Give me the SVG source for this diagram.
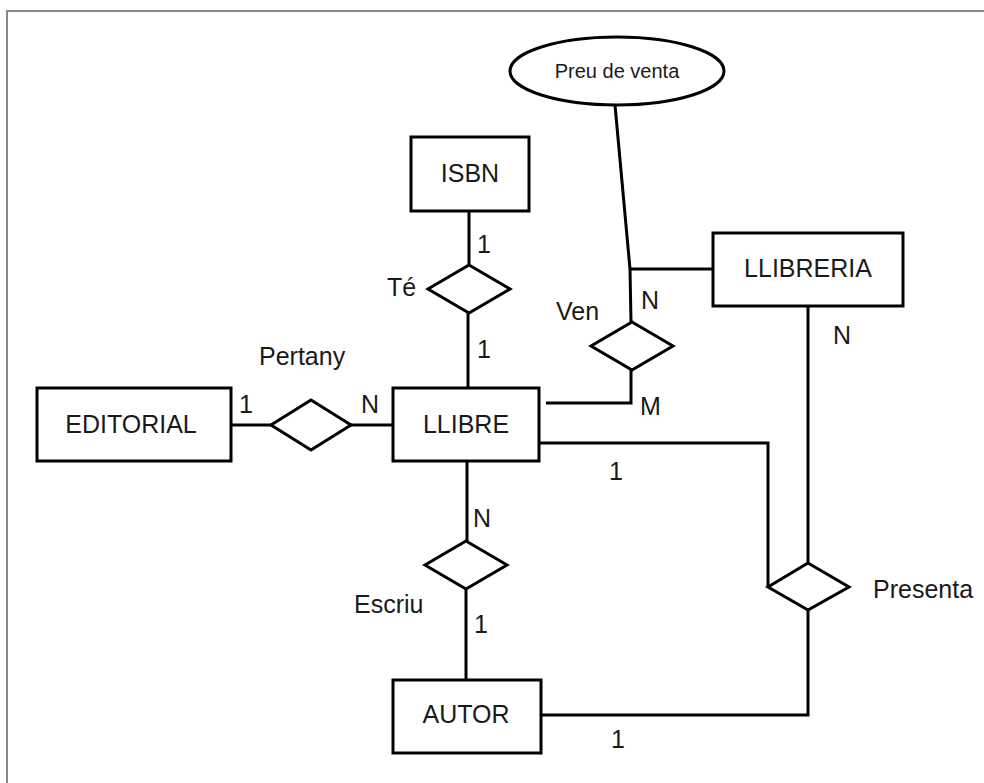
<svg xmlns="http://www.w3.org/2000/svg" width="984" height="783" viewBox="0 0 984 783">
<style>
.box{fill:#fff;stroke:#000;stroke-width:3}
.rel{fill:#fff;stroke:#000;stroke-width:3;stroke-linejoin:miter}
.ln{fill:none;stroke:#000;stroke-width:3}
text{font-family:"Liberation Sans",Arial,sans-serif;font-size:25px;fill:#1a1a1a}
.c{text-anchor:middle}
</style>
<rect width="984" height="783" fill="#fff"/>
<path d="M7,783 V11 H984" fill="none" stroke="#888" stroke-width="2"/>
<g id="connectors">
<path class="ln" d="M469,211 V266"/>
<path class="ln" d="M468,313 V388"/>
<path class="ln" d="M615,105 L630,269 L631,322"/>
<path class="ln" d="M630,269 H713"/>
<path class="ln" d="M631,370 V403 H546"/>
<path class="ln" d="M231,425 H271"/>
<path class="ln" d="M350,425 H393"/>
<path class="ln" d="M467,461 V541"/>
<path class="ln" d="M466,588 V680"/>
<path class="ln" d="M539,443 H768 V587"/>
<path class="ln" d="M808,306 V563"/>
<path class="ln" d="M808,610 V715 H541"/>
</g>
<g id="preu-de-venta">
<ellipse cx="617" cy="71" rx="107" ry="34" fill="#fff" stroke="#000" stroke-width="3"/>
<text class="c" x="617" y="78" style="font-size:20px">Preu de venta</text>
</g>
<g id="isbn">
<rect class="box" x="411" y="137" width="118" height="74"/>
<text class="c" x="470" y="182">ISBN</text>
</g>
<g id="llibreria">
<rect class="box" x="713" y="233" width="190" height="73"/>
<text class="c" x="808" y="277">LLIBRERIA</text>
</g>
<g id="llibre">
<rect class="box" x="393" y="388" width="146" height="73"/>
<text class="c" x="466" y="433">LLIBRE</text>
</g>
<g id="editorial">
<rect class="box" x="37" y="388" width="194" height="73"/>
<text class="c" x="131" y="433">EDITORIAL</text>
</g>
<g id="autor">
<rect class="box" x="393" y="680" width="148" height="73"/>
<text class="c" x="466" y="723">AUTOR</text>
</g>
<g id="te">
<polygon class="rel" points="469,265 510,289 469,313 428,289"/>
<text x="387" y="296">Té</text>
</g>
<g id="ven">
<polygon class="rel" points="632,322 673,346 632,370 591,346"/>
<text x="556" y="320">Ven</text>
</g>
<g id="pertany">
<polygon class="rel" points="311,400 351,425 311,450 271,425"/>
<text x="259" y="365">Pertany</text>
</g>
<g id="escriu">
<polygon class="rel" points="466,541 507,565 466,589 425,565"/>
<text x="354" y="613">Escriu</text>
</g>
<g id="presenta">
<polygon class="rel" points="808,563 849,587 808,610 768,587"/>
<text x="873" y="598">Presenta</text>
</g>
<g id="cardinalities">
<text x="477" y="253">1</text>
<text x="477" y="358">1</text>
<text x="641" y="309">N</text>
<text x="640" y="415">M</text>
<text x="833" y="344">N</text>
<text x="609" y="480">1</text>
<text x="611" y="748">1</text>
<text x="473" y="527">N</text>
<text x="474" y="633">1</text>
<text x="239" y="413">1</text>
<text x="361" y="413">N</text>
</g>
</svg>
